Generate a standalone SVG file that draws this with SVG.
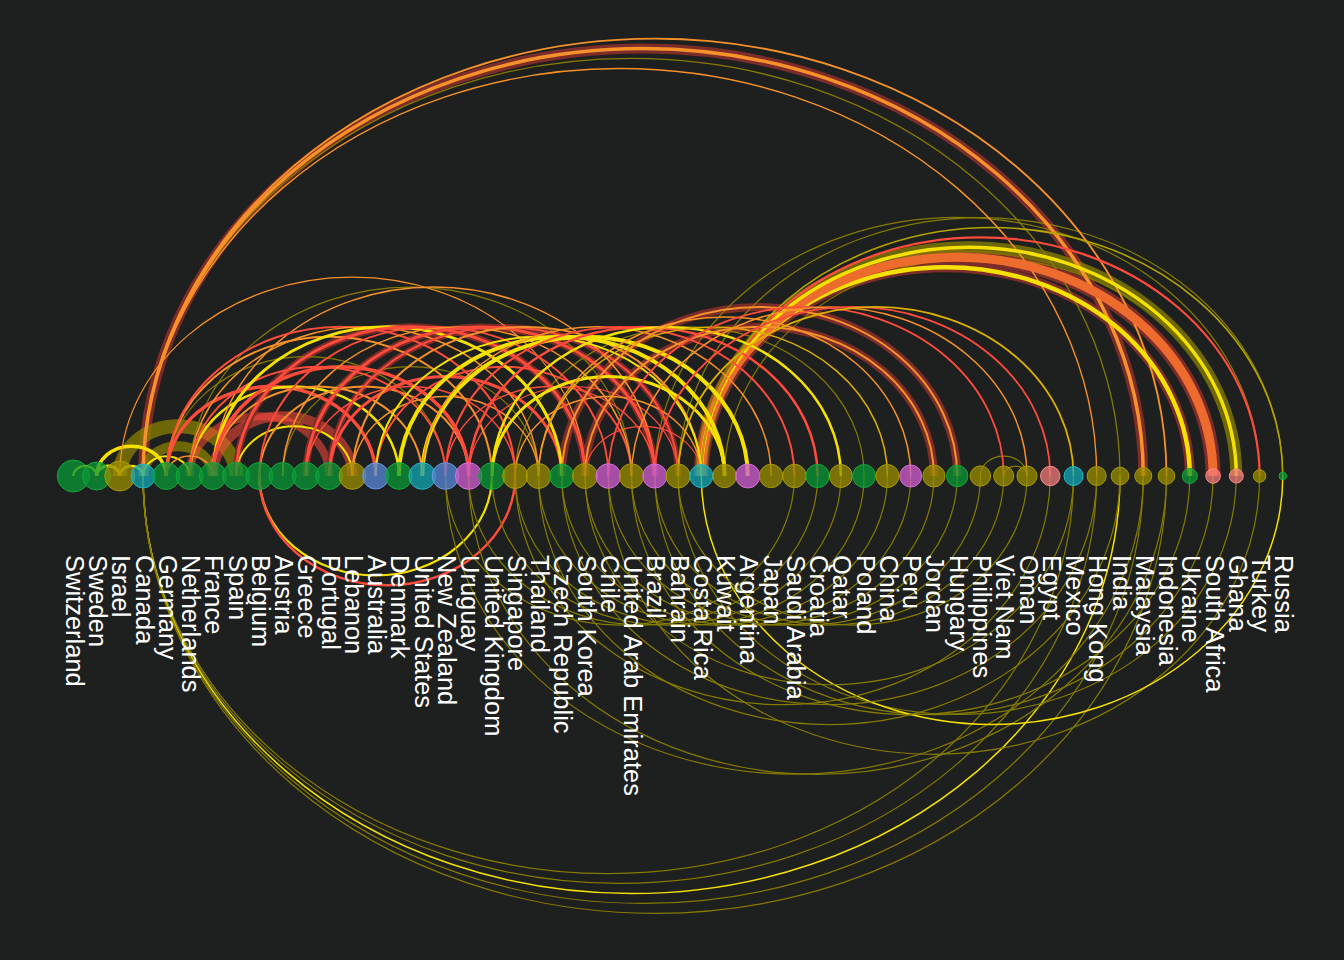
<svg xmlns="http://www.w3.org/2000/svg" width="1344" height="960" viewBox="0 0 1344 960">
<defs>
<style>
.e{fill:none;stroke-linecap:butt}
.r{stroke:#ff4b3c}
.o{stroke:#f7922a}
.o2{stroke:#ee6b2e}
.y{stroke:#f4e100}
.gd{stroke:#dcb000}
.ol{stroke:#857c00}
.ol2{stroke:#b3a400}
.dr{stroke:#7c2c29}
.oh{stroke:#8a8000;stroke-opacity:.75}
.rh{stroke:#ff4b3c;stroke-opacity:.55}
.n{stroke-width:1}
.cg{fill:#0a9a35;fill-opacity:.75;stroke:#12a83c}
.co{fill:#9a8d00;fill-opacity:.75;stroke:#a89a00}
.cb{fill:#5585d5;fill-opacity:.78;stroke:#6a98e6}
.ct{fill:#12a8b5;fill-opacity:.75;stroke:#22b8c5}
.cm{fill:#cc5ccc;fill-opacity:.78;stroke:#dd6cdd}
.cs{fill:#f07a7a;fill-opacity:.75;stroke:#ff8a8a}
.lb{font-family:"Liberation Sans",Arial,sans-serif;font-size:25.5px;fill:#ffffff}
</style>
</defs>
<rect width="1344" height="960" fill="#1e1f1f"/>
<g id="connectors">
<!-- halos -->
<path class="e dr" stroke-width="10" d="M143.1 476A1 .855 0 0 1 1143.3 476"/>
<path class="e dr" stroke-width="10" d="M701.3 476A1 .855 0 0 1 1189.8 476"/>
<path class="e dr" stroke-width="15" d="M701.3 476A1 .855 0 0 1 1213.1 476"/>
<path class="e oh" stroke-width="12" d="M701.3 476A1 .855 0 0 1 1236.3 476"/>
<path class="e oh" stroke-width="14" d="M119.8 476A1 .855 0 0 1 236.1 476"/>
<path class="e oh" stroke-width="10" d="M143.1 476A1 .855 0 0 1 212.9 476"/>
<path class="e rh" stroke-width="10" d="M212.9 476A1 .855 0 0 1 352.4 476"/>
<path class="e rh" stroke-width="8" d="M189.6 476A1 .855 0 0 1 329.2 476"/>
<path class="e dr" stroke-width="8" d="M561.8 476A1 .855 0 0 1 957.2 476"/>
<path class="e dr" stroke-width="8" d="M585.0 476A1 .855 0 0 1 933.9 476"/>
<path class="e dr" stroke-width="7" d="M236.1 476A1 .855 0 0 1 585.0 476"/>
<path class="e dr" stroke-width="7" d="M305.9 476A1 .855 0 0 1 654.8 476"/>
<path class="e dr" stroke-width="6" d="M329.2 476A1 .855 0 0 1 678.1 476"/>
<!-- lower arcs -->
<path class="e ol" stroke-width="1.2" d="M143.1 476A1 .855 0 0 0 1073.5 476"/>
<path class="e ol" stroke-width="1.2" d="M143.1 476A1 .855 0 0 0 1096.7 476"/>
<path class="e y" stroke-width="1.5" d="M143.1 476A1 .855 0 0 0 1120.0 476"/>
<path class="e ol" stroke-width="1.2" d="M143.1 476A1 .855 0 0 0 1143.3 476"/>
<path class="e ol" stroke-width="1.2" d="M143.1 476A1 .855 0 0 0 1166.5 476"/>
<path class="e y" stroke-width="2.2" d="M259.4 476A1 .855 0 0 0 492.0 476"/>
<path class="e r" stroke-width="2.5" d="M259.4 476A1 .855 0 0 0 515.2 476"/>
<path class="e ol" stroke-width="1.2" d="M445.5 476A1 .855 0 0 0 1143.3 476"/>
<path class="e ol" stroke-width="1.2" d="M468.7 476A1 .855 0 0 0 1166.5 476"/>
<path class="e ol" stroke-width="1.2" d="M631.5 476A1 .855 0 0 0 1189.8 476"/>
<path class="e ol" stroke-width="1.2" d="M654.8 476A1 .855 0 0 0 1213.1 476"/>
<path class="e ol" stroke-width="1.2" d="M678.1 476A1 .855 0 0 0 1236.3 476"/>
<path class="e ol" stroke-width="1.2" d="M608.3 476A1 .855 0 0 0 1259.6 476"/>
<path class="e y" stroke-width="1.5" d="M701.3 476A1 .855 0 0 0 1282.8 476"/>
<path class="e ol" stroke-width="1.2" d="M538.5 476A1 .855 0 0 0 1120.0 476"/>
<path class="e ol" stroke-width="1.2" d="M561.8 476A1 .855 0 0 0 1096.7 476"/>
<path class="e ol" stroke-width="1.2" d="M585.0 476A1 .855 0 0 0 1073.5 476"/>
<path class="e ol" stroke-width="1.2" d="M515.2 476A1 .855 0 0 0 1050.2 476"/>
<path class="e ol" stroke-width="1.2" d="M445.5 476A1 .855 0 0 0 794.4 476"/>
<path class="e ol" stroke-width="1.2" d="M468.7 476A1 .855 0 0 0 817.6 476"/>
<path class="e ol" stroke-width="1.2" d="M492.0 476A1 .855 0 0 0 840.9 476"/>
<path class="e ol" stroke-width="1.2" d="M515.2 476A1 .855 0 0 0 864.1 476"/>
<path class="e ol" stroke-width="1.2" d="M538.5 476A1 .855 0 0 0 887.4 476"/>
<path class="e ol" stroke-width="1.2" d="M561.8 476A1 .855 0 0 0 910.7 476"/>
<path class="e ol" stroke-width="1.2" d="M585.0 476A1 .855 0 0 0 933.9 476"/>
<path class="e ol" stroke-width="1.2" d="M608.3 476A1 .855 0 0 0 957.2 476"/>
<path class="e ol" stroke-width="1.2" d="M631.5 476A1 .855 0 0 0 980.4 476"/>
<path class="e ol" stroke-width="1.2" d="M654.8 476A1 .855 0 0 0 1003.7 476"/>
<path class="e ol" stroke-width="1.2" d="M678.1 476A1 .855 0 0 0 1027.0 476"/>
<!-- upper thin olive -->
<path class="e ol" stroke-width="1.3" d="M143.1 476A1 .855 0 0 1 1120.0 476"/>
<path class="e ol" stroke-width="1.2" d="M678.1 476A1 .855 0 0 1 1282.8 476"/>
<path class="e ol" stroke-width="1.2" d="M654.8 476A1 .855 0 0 1 1259.6 476"/>
<path class="e ol" stroke-width="1.2" d="M724.6 476A1 .855 0 0 1 1236.3 476"/>
<path class="e ol" stroke-width="1.2" d="M515.2 476A1 .855 0 0 1 864.1 476"/>
<path class="e ol" stroke-width="1.2" d="M282.6 476A1 .855 0 0 1 538.5 476"/>
<path class="e ol" stroke-width="1.2" d="M166.3 476A1 .855 0 0 1 445.5 476"/>
<path class="e ol" stroke-width="1.2" d="M189.6 476A1 .855 0 0 1 631.5 476"/>
<path class="e ol" stroke-width="1.2" d="M980.4 476A1 .855 0 0 1 1027.0 476"/>
<path class="e ol" stroke-width="1.2" d="M1003.7 476A1 .855 0 0 1 1027.0 476"/>
<!-- big arcs -->
<path class="e o" stroke-width="3.5" d="M143.1 476A1 .855 0 0 1 1143.3 476"/>
<path class="e o" stroke-width="1.8" d="M143.1 476A1 .855 0 0 1 1166.5 476"/>
<path class="e o" stroke-width="1.4" d="M143.1 476A1 .855 0 0 1 1096.7 476"/>
<!-- Costa Rica bundle -->
<path class="e y" stroke-width="4.5" d="M701.3 476A1 .855 0 0 1 1189.8 476"/>
<path class="e o2" stroke-width="9" d="M701.3 476A1 .855 0 0 1 1213.1 476"/>
<path class="e y" stroke-width="3.5" d="M701.3 476A1 .855 0 0 1 1236.3 476"/>
<path class="e r" stroke-width="2.2" d="M701.3 476A1 .855 0 0 1 1259.6 476"/>
<path class="e ol2" stroke-width="1.6" d="M701.3 476A1 .855 0 0 1 1282.8 476"/>
<!-- left cluster -->
<path class="e y" stroke-width="2" d="M73.3 476A1 .855 0 0 1 96.6 476"/>
<path class="e y" stroke-width="3" d="M96.6 476A1 .855 0 0 1 119.8 476"/>
<path class="e y" stroke-width="2.5" d="M119.8 476A1 .855 0 0 1 143.1 476"/>
<path class="e y" stroke-width="3.5" d="M96.6 476A1 .855 0 0 1 166.3 476"/>
<path class="e y" stroke-width="2" d="M143.1 476A1 .855 0 0 1 189.6 476"/>
<path class="e o" stroke-width="1.5" d="M166.3 476A1 .855 0 0 1 212.9 476"/>
<!-- rainbow -->
<path class="e r" stroke-width="3.5" d="M166.3 476A1 .855 0 0 1 375.7 476"/>
<path class="e y" stroke-width="2.5" d="M189.6 476A1 .855 0 0 1 398.9 476"/>
<path class="e o" stroke-width="2" d="M212.9 476A1 .855 0 0 1 422.2 476"/>
<path class="e y" stroke-width="2" d="M236.1 476A1 .855 0 0 1 352.4 476"/>
<path class="e o" stroke-width="2" d="M259.4 476A1 .855 0 0 1 468.7 476"/>
<path class="e r" stroke-width="1.5" d="M305.9 476A1 .855 0 0 1 515.2 476"/>
<path class="e r" stroke-width="3" d="M329.2 476A1 .855 0 0 1 561.8 476"/>
<path class="e o" stroke-width="1.5" d="M352.4 476A1 .855 0 0 1 538.5 476"/>
<path class="e r" stroke-width="2" d="M375.7 476A1 .855 0 0 1 631.5 476"/>
<path class="e r" stroke-width="1.5" d="M445.5 476A1 .855 0 0 1 654.8 476"/>
<path class="e r" stroke-width="1.2" d="M468.7 476A1 .855 0 0 1 678.1 476"/>
<path class="e o" stroke-width="1.5" d="M515.2 476A1 .855 0 0 1 701.3 476"/>
<path class="e r" stroke-width="1.2" d="M585.0 476A1 .855 0 0 1 701.3 476"/>
<path class="e o" stroke-width="1.5" d="M212.9 476A1 .855 0 0 1 654.8 476"/>
<path class="e o" stroke-width="1.2" d="M119.8 476A1 .855 0 0 1 585.0 476"/>
<path class="e o" stroke-width="2" d="M166.3 476A1 .855 0 0 1 492.0 476"/>
<path class="e r" stroke-width="2" d="M166.3 476A1 .855 0 0 1 515.2 476"/>
<path class="e o" stroke-width="1.5" d="M189.6 476A1 .855 0 0 1 538.5 476"/>
<path class="e r" stroke-width="2" d="M189.6 476A1 .855 0 0 1 445.5 476"/>
<path class="e y" stroke-width="3" d="M212.9 476A1 .855 0 0 1 561.8 476"/>
<path class="e r" stroke-width="3.5" d="M212.9 476A1 .855 0 0 1 468.7 476"/>
<path class="e r" stroke-width="3" d="M236.1 476A1 .855 0 0 1 585.0 476"/>
<path class="e r" stroke-width="1.8" d="M259.4 476A1 .855 0 0 1 608.3 476"/>
<path class="e o" stroke-width="1.5" d="M282.6 476A1 .855 0 0 1 631.5 476"/>
<path class="e r" stroke-width="3" d="M305.9 476A1 .855 0 0 1 654.8 476"/>
<path class="e r" stroke-width="2" d="M329.2 476A1 .855 0 0 1 678.1 476"/>
<path class="e o" stroke-width="2" d="M352.4 476A1 .855 0 0 1 701.3 476"/>
<path class="e y" stroke-width="2" d="M375.7 476A1 .855 0 0 1 701.3 476"/>
<path class="e y" stroke-width="4" d="M398.9 476A1 .855 0 0 1 724.6 476"/>
<path class="e y" stroke-width="4" d="M422.2 476A1 .855 0 0 1 747.8 476"/>
<path class="e y" stroke-width="3" d="M492.0 476A1 .855 0 0 1 724.6 476"/>
<path class="e o" stroke-width="1.5" d="M422.2 476A1 .855 0 0 1 771.1 476"/>
<path class="e r" stroke-width="2" d="M445.5 476A1 .855 0 0 1 794.4 476"/>
<path class="e r" stroke-width="2.5" d="M468.7 476A1 .855 0 0 1 817.6 476"/>
<path class="e y" stroke-width="2.5" d="M492.0 476A1 .855 0 0 1 840.9 476"/>
<path class="e gd" stroke-width="1.5" d="M538.5 476A1 .855 0 0 1 887.4 476"/>
<path class="e o" stroke-width="1.5" d="M538.5 476A1 .855 0 0 1 910.7 476"/>
<path class="e o" stroke-width="2" d="M561.8 476A1 .855 0 0 1 957.2 476"/>
<path class="e o" stroke-width="2" d="M585.0 476A1 .855 0 0 1 933.9 476"/>
<path class="e r" stroke-width="1.8" d="M608.3 476A1 .855 0 0 1 1003.7 476"/>
<path class="e o" stroke-width="1.5" d="M631.5 476A1 .855 0 0 1 1027.0 476"/>
<path class="e r" stroke-width="1.8" d="M654.8 476A1 .855 0 0 1 1050.2 476"/>
<path class="e gd" stroke-width="1.8" d="M678.1 476A1 .855 0 0 1 1073.5 476"/>
</g>
<g id="nodes">
<g id="n-switzerland"><circle class="n cg" cx="73.3" cy="476" r="16"/><text class="lb" x="65.8" y="555" transform="rotate(90 65.8 555)">Switzerland</text></g>
<g id="n-sweden"><circle class="n cg" cx="96.6" cy="476" r="14"/><text class="lb" x="89.1" y="555" transform="rotate(90 89.1 555)">Sweden</text></g>
<g id="n-israel"><circle class="n co" cx="119.8" cy="476" r="15"/><text class="lb" x="112.3" y="555" transform="rotate(90 112.3 555)">Israel</text></g>
<g id="n-canada"><circle class="n ct" cx="143.1" cy="476" r="12"/><text class="lb" x="135.6" y="555" transform="rotate(90 135.6 555)">Canada</text></g>
<g id="n-germany"><circle class="n cg" cx="166.3" cy="476" r="13.5"/><text class="lb" x="158.8" y="555" transform="rotate(90 158.8 555)">Germany</text></g>
<g id="n-netherlands"><circle class="n cg" cx="189.6" cy="476" r="13.5"/><text class="lb" x="182.1" y="555" transform="rotate(90 182.1 555)">Netherlands</text></g>
<g id="n-france"><circle class="n cg" cx="212.9" cy="476" r="13.5"/><text class="lb" x="205.4" y="555" transform="rotate(90 205.4 555)">France</text></g>
<g id="n-spain"><circle class="n cg" cx="236.1" cy="476" r="13.5"/><text class="lb" x="228.6" y="555" transform="rotate(90 228.6 555)">Spain</text></g>
<g id="n-belgium"><circle class="n cg" cx="259.4" cy="476" r="13.5"/><text class="lb" x="251.9" y="555" transform="rotate(90 251.9 555)">Belgium</text></g>
<g id="n-austria"><circle class="n cg" cx="282.6" cy="476" r="13.5"/><text class="lb" x="275.1" y="555" transform="rotate(90 275.1 555)">Austria</text></g>
<g id="n-greece"><circle class="n cg" cx="305.9" cy="476" r="13.5"/><text class="lb" x="298.4" y="555" transform="rotate(90 298.4 555)">Greece</text></g>
<g id="n-portugal"><circle class="n cg" cx="329.2" cy="476" r="13.5"/><text class="lb" x="321.7" y="555" transform="rotate(90 321.7 555)">Portugal</text></g>
<g id="n-lebanon"><circle class="n co" cx="352.4" cy="476" r="13.3"/><text class="lb" x="344.9" y="555" transform="rotate(90 344.9 555)">Lebanon</text></g>
<g id="n-australia"><circle class="n cb" cx="375.7" cy="476" r="13"/><text class="lb" x="368.2" y="555" transform="rotate(90 368.2 555)">Australia</text></g>
<g id="n-denmark"><circle class="n cg" cx="398.9" cy="476" r="13.3"/><text class="lb" x="391.4" y="555" transform="rotate(90 391.4 555)">Denmark</text></g>
<g id="n-united-states"><circle class="n ct" cx="422.2" cy="476" r="13.3"/><text class="lb" x="414.7" y="555" transform="rotate(90 414.7 555)">United States</text></g>
<g id="n-new-zealand"><circle class="n cb" cx="445.5" cy="476" r="13.3"/><text class="lb" x="438" y="555" transform="rotate(90 438 555)">New Zealand</text></g>
<g id="n-uruguay"><circle class="n cm" cx="468.7" cy="476" r="13.3"/><text class="lb" x="461.2" y="555" transform="rotate(90 461.2 555)">Uruguay</text></g>
<g id="n-united-kingdom"><circle class="n cg" cx="492.0" cy="476" r="13.3"/><text class="lb" x="484.5" y="555" transform="rotate(90 484.5 555)">United Kingdom</text></g>
<g id="n-singapore"><circle class="n co" cx="515.2" cy="476" r="12.5"/><text class="lb" x="507.7" y="555" transform="rotate(90 507.7 555)">Singapore</text></g>
<g id="n-thailand"><circle class="n co" cx="538.5" cy="476" r="12.5"/><text class="lb" x="531" y="555" transform="rotate(90 531 555)">Thailand</text></g>
<g id="n-czech-republic"><circle class="n cg" cx="561.8" cy="476" r="12"/><text class="lb" x="554.3" y="555" transform="rotate(90 554.3 555)">Czech Republic</text></g>
<g id="n-south-korea"><circle class="n co" cx="585.0" cy="476" r="12.5"/><text class="lb" x="577.5" y="555" transform="rotate(90 577.5 555)">South Korea</text></g>
<g id="n-chile"><circle class="n cm" cx="608.3" cy="476" r="12.3"/><text class="lb" x="600.8" y="555" transform="rotate(90 600.8 555)">Chile</text></g>
<g id="n-uae"><circle class="n co" cx="631.5" cy="476" r="12.3"/><text class="lb" x="624" y="555" transform="rotate(90 624 555)">United Arab Emirates</text></g>
<g id="n-brazil"><circle class="n cm" cx="654.8" cy="476" r="12"/><text class="lb" x="647.3" y="555" transform="rotate(90 647.3 555)">Brazil</text></g>
<g id="n-bahrain"><circle class="n co" cx="678.1" cy="476" r="12"/><text class="lb" x="670.6" y="555" transform="rotate(90 670.6 555)">Bahrain</text></g>
<g id="n-costa-rica"><circle class="n ct" cx="701.3" cy="476" r="11.5"/><text class="lb" x="693.8" y="555" transform="rotate(90 693.8 555)">Costa Rica</text></g>
<g id="n-kuwait"><circle class="n co" cx="724.6" cy="476" r="11.7"/><text class="lb" x="717.1" y="555" transform="rotate(90 717.1 555)">Kuwait</text></g>
<g id="n-argentina"><circle class="n cm" cx="747.8" cy="476" r="12"/><text class="lb" x="740.3" y="555" transform="rotate(90 740.3 555)">Argentina</text></g>
<g id="n-japan"><circle class="n co" cx="771.1" cy="476" r="11.7"/><text class="lb" x="763.6" y="555" transform="rotate(90 763.6 555)">Japan</text></g>
<g id="n-saudi-arabia"><circle class="n co" cx="794.4" cy="476" r="11.7"/><text class="lb" x="786.9" y="555" transform="rotate(90 786.9 555)">Saudi Arabia</text></g>
<g id="n-croatia"><circle class="n cg" cx="817.6" cy="476" r="11.7"/><text class="lb" x="810.1" y="555" transform="rotate(90 810.1 555)">Croatia</text></g>
<g id="n-qatar"><circle class="n co" cx="840.9" cy="476" r="11.5"/><text class="lb" x="833.4" y="555" transform="rotate(90 833.4 555)">Qatar</text></g>
<g id="n-poland"><circle class="n cg" cx="864.1" cy="476" r="11.5"/><text class="lb" x="856.6" y="555" transform="rotate(90 856.6 555)">Poland</text></g>
<g id="n-china"><circle class="n co" cx="887.4" cy="476" r="11.5"/><text class="lb" x="879.9" y="555" transform="rotate(90 879.9 555)">China</text></g>
<g id="n-peru"><circle class="n cm" cx="910.7" cy="476" r="11"/><text class="lb" x="903.2" y="555" transform="rotate(90 903.2 555)">Peru</text></g>
<g id="n-jordan"><circle class="n co" cx="933.9" cy="476" r="11"/><text class="lb" x="926.4" y="555" transform="rotate(90 926.4 555)">Jordan</text></g>
<g id="n-hungary"><circle class="n cg" cx="957.2" cy="476" r="10.7"/><text class="lb" x="949.7" y="555" transform="rotate(90 949.7 555)">Hungary</text></g>
<g id="n-philippines"><circle class="n co" cx="980.4" cy="476" r="10.2"/><text class="lb" x="972.9" y="555" transform="rotate(90 972.9 555)">Philippines</text></g>
<g id="n-viet-nam"><circle class="n co" cx="1003.7" cy="476" r="10"/><text class="lb" x="996.2" y="555" transform="rotate(90 996.2 555)">Viet Nam</text></g>
<g id="n-oman"><circle class="n co" cx="1027.0" cy="476" r="10"/><text class="lb" x="1019.5" y="555" transform="rotate(90 1019.5 555)">Oman</text></g>
<g id="n-egypt"><circle class="n cs" cx="1050.2" cy="476" r="9.7"/><text class="lb" x="1042.7" y="555" transform="rotate(90 1042.7 555)">Egypt</text></g>
<g id="n-mexico"><circle class="n ct" cx="1073.5" cy="476" r="9.5"/><text class="lb" x="1066" y="555" transform="rotate(90 1066 555)">Mexico</text></g>
<g id="n-hong-kong"><circle class="n co" cx="1096.7" cy="476" r="9.5"/><text class="lb" x="1089.2" y="555" transform="rotate(90 1089.2 555)">Hong Kong</text></g>
<g id="n-india"><circle class="n co" cx="1120.0" cy="476" r="8.8"/><text class="lb" x="1112.5" y="555" transform="rotate(90 1112.5 555)">India</text></g>
<g id="n-malaysia"><circle class="n co" cx="1143.3" cy="476" r="8.5"/><text class="lb" x="1135.8" y="555" transform="rotate(90 1135.8 555)">Malaysia</text></g>
<g id="n-indonesia"><circle class="n co" cx="1166.5" cy="476" r="8.3"/><text class="lb" x="1159" y="555" transform="rotate(90 1159 555)">Indonesia</text></g>
<g id="n-ukraine"><circle class="n cg" cx="1189.8" cy="476" r="7.5"/><text class="lb" x="1182.3" y="555" transform="rotate(90 1182.3 555)">Ukraine</text></g>
<g id="n-south-africa"><circle class="n cs" cx="1213.1" cy="476" r="7.3"/><text class="lb" x="1205.6" y="555" transform="rotate(90 1205.6 555)">South Africa</text></g>
<g id="n-ghana"><circle class="n cs" cx="1236.3" cy="476" r="7"/><text class="lb" x="1228.8" y="555" transform="rotate(90 1228.8 555)">Ghana</text></g>
<g id="n-turkey"><circle class="n co" cx="1259.6" cy="476" r="6.3"/><text class="lb" x="1252.1" y="555" transform="rotate(90 1252.1 555)">Turkey</text></g>
<g id="n-russia"><circle class="n cg" cx="1282.8" cy="476" r="3.8"/><text class="lb" x="1275.3" y="555" transform="rotate(90 1275.3 555)">Russia</text></g>
</g>
</svg>
